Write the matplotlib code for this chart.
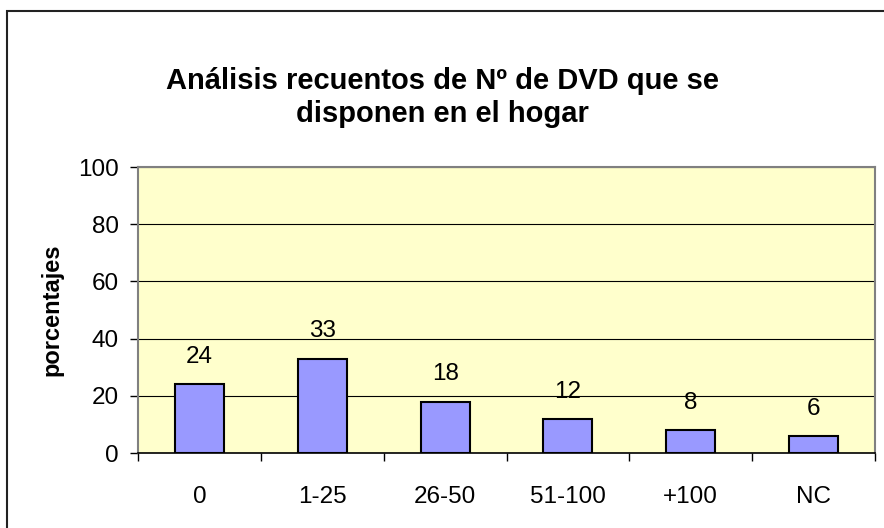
import matplotlib
matplotlib.use("Agg")
import matplotlib.pyplot as plt
from matplotlib.patches import Rectangle

categories = ["0", "1-25", "26-50", "51-100", "+100", "NC"]
values = [24, 33, 18, 12, 8, 6]
yticks = [0, 20, 40, 60, 80, 100]

plt.rcParams['font.family'] = ['Liberation Sans', 'DejaVu Sans']

fig = plt.figure(figsize=(8.84, 5.28), dpi=100)
fig.patches.append(Rectangle((7/884, -0.05), 1.0, 1 + 0.05 - 11/528, transform=fig.transFigure,
                             fill=False, edgecolor='#222222', linewidth=1.5))

ax = fig.add_axes([138/884, 1 - 453/528, (875-138)/884, (453-167)/528])
ax.set_facecolor('#FFFFCC')
x = list(range(len(categories)))
ax.bar(x, values, width=0.4, color='#9999FF', edgecolor='black', linewidth=1.5, zorder=3)
for xi, v in zip(x, values):
    ax.text(xi, v + 9.5, str(v), ha='center', va='center', fontsize=17.5, zorder=4)

ax.set_xlim(-0.5, len(categories) - 0.5)
ax.set_ylim(0, 100)
ax.set_yticks(yticks)
ax.yaxis.grid(True, color='black', linewidth=0.8, zorder=1)
ax.set_axisbelow(True)
ax.set_xticks(x)
ax.set_xticklabels(categories, fontsize=17.5)
ax.set_xticks([i - 0.5 for i in range(len(categories) + 1)], minor=True)
ax.tick_params(axis='x', which='major', length=0, pad=24)
ax.tick_params(axis='x', which='minor', length=6, width=1, color='black', direction='out')
ax.tick_params(axis='y', labelsize=17.5, length=6, width=1, direction='out', pad=8)
for s in ['left', 'right', 'top']:
    ax.spines[s].set_color('#808080')
    ax.spines[s].set_linewidth(1.5)
ax.spines['bottom'].set_color('black')
ax.spines['bottom'].set_linewidth(1.2)
ax.set_ylabel('porcentajes', fontsize=17, fontweight='bold', labelpad=10)

fig.text(0.5, 1 - 97.5/528, 'Análisis recuentos de Nº de DVD que se\ndisponen en el hogar',
         ha='center', va='center', fontsize=21, fontweight='bold', linespacing=1.2)

fig.savefig('out.png', dpi=100)
